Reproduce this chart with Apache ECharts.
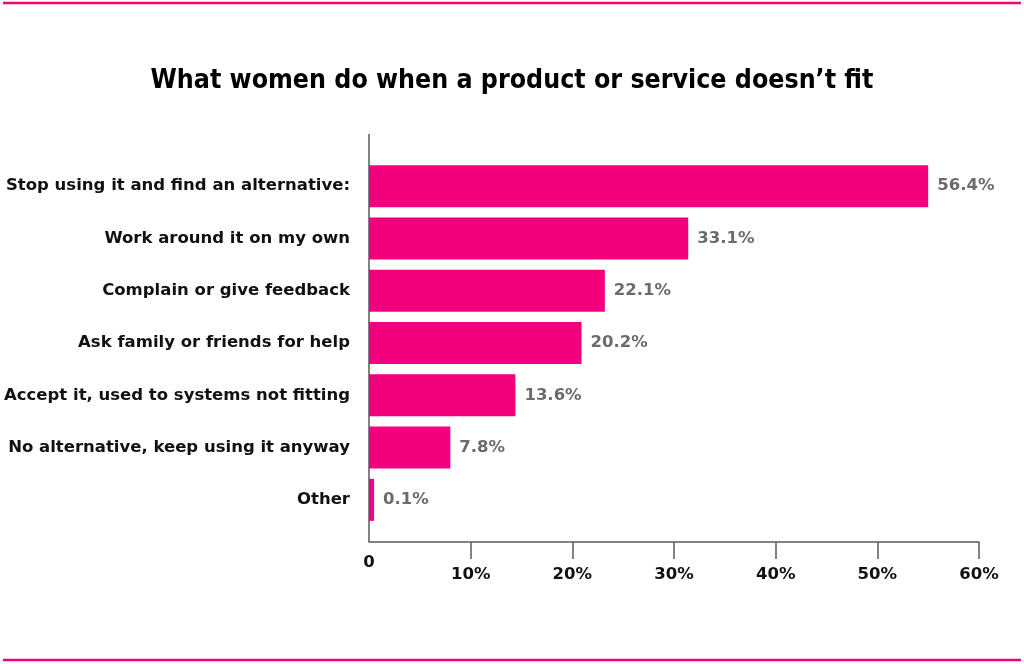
<!DOCTYPE html>
<html lang="en">
<head>
    <meta charset="utf-8">
    <title>What women do when a product or service doesn't fit</title>
    <script src="https://cdn.jsdelivr.net/npm/echarts@6.0.0/dist/echarts.min.js"></script>
    <style>
        html, body { margin: 0; padding: 0; background: #fff; }
        #main { width: 1024px; height: 664px; }
    </style>
</head>
<body>
<div id="main"></div>

<script type="text/javascript">
    // categories, top to bottom
    var categories = [
        'Stop using it and find an alternative:',
        'Work around it on my own',
        'Complain or give feedback',
        'Ask family or friends for help',
        'Accept it, used to systems not fitting',
        'No alternative, keep using it anyway',
        'Other'
    ];
    // bar lengths as drawn in the picture (percent on the x axis)
    var barLength = [55.0, 31.4, 23.2, 20.9, 14.4, 8.0, 0.5];
    // value labels as printed next to the bars
    var valueLabels = ['56.4%', '33.1%', '22.1%', '20.2%', '13.6%', '7.8%', '0.1%'];
    // x axis ticks
    var xTicks = [0, 10, 20, 30, 40, 50, 60];

    var pink = '#f3007f';
    var axisGrey = '#5a5a5a';
    var labelFont = '"DejaVu Sans", sans-serif';

    // the bands fill [160, 526]; the axis lines run a bit further, 134..542
    var W = 1024, H = 664;
    var gridLeft = 369, gridRight = 45, gridTop = 160, gridBottomY = 526;
    var axisTopY = 134, axisBottomY = 542;

    var myChart = echarts.init(document.getElementById('main'));

    myChart.setOption({
        animation: false,
        backgroundColor: '#fff',
        title: {
            text: 'What women do when a product or service doesn\u2019t fit',
            left: 'center',
            top: 63,
            textStyle: {
                fontFamily: '"DejaVu Sans", sans-serif',
                fontStyle: 'condensed',
                fontWeight: 'bold',
                fontSize: 26.5,
                color: '#000'
            }
        },
        grid: {
            left: gridLeft,
            right: gridRight,
            top: gridTop,
            bottom: H - gridBottomY,
            containLabel: false
        },
        xAxis: [{
            type: 'value',
            position: 'bottom',
            offset: axisBottomY - gridBottomY,
            min: xTicks[0],
            max: xTicks[xTicks.length - 1],
            interval: 10,
            axisLine: { show: true, lineStyle: { color: axisGrey, width: 1.5 } },
            axisTick: {
                show: true,
                customValues: xTicks.slice(1),
                length: 17,
                lineStyle: { color: axisGrey, width: 1.5 }
            },
            axisLabel: {
                margin: 24,
                fontFamily: labelFont,
                fontWeight: 'bold',
                fontSize: 16.5,
                color: '#111',
                formatter: function (v) { return v === 0 ? '' : v + '%'; }
            },
            splitLine: { show: false }
        }, {
            // the "0" label sits higher than the others
            type: 'value',
            position: 'bottom',
            offset: axisBottomY - gridBottomY,
            min: xTicks[0],
            max: xTicks[xTicks.length - 1],
            interval: 10,
            axisLine: { show: false },
            axisTick: { show: false },
            axisLabel: {
                margin: 12,
                fontFamily: labelFont,
                fontWeight: 'bold',
                fontSize: 16.5,
                color: '#111',
                formatter: function (v) { return v === 0 ? '0' : ''; }
            },
            splitLine: { show: false }
        }],
        yAxis: {
            type: 'category',
            inverse: true,
            data: categories,
            axisLine: { show: false },
            axisTick: { show: false },
            splitLine: { show: false },
            axisLabel: {
                margin: 19,
                fontFamily: labelFont,
                fontWeight: 'bold',
                fontSize: 16.5,
                color: '#111'
            }
        },
        series: [{
            type: 'bar',
            xAxisIndex: 0,
            data: barLength,
            barWidth: 42,
            itemStyle: { color: pink },
            label: {
                show: true,
                position: 'right',
                distance: 9,
                fontFamily: labelFont,
                fontWeight: 'bold',
                fontSize: 16.5,
                color: '#6b6b6b',
                formatter: function (p) { return valueLabels[p.dataIndex]; }
            }
        }],
        graphic: [{
            // y axis line, longer than the band area
            type: 'line',
            shape: { x1: gridLeft, y1: axisTopY, x2: gridLeft, y2: axisBottomY },
            style: { stroke: axisGrey, lineWidth: 1.5 }
        }, {
            type: 'line',
            shape: { x1: 3, y1: 3, x2: W - 3, y2: 3 },
            style: { stroke: pink, lineWidth: 2.5 }
        }, {
            type: 'line',
            shape: { x1: 3, y1: 660, x2: W - 3, y2: 660 },
            style: { stroke: pink, lineWidth: 2.5 }
        }]
    });
</script>
</body>
</html>
